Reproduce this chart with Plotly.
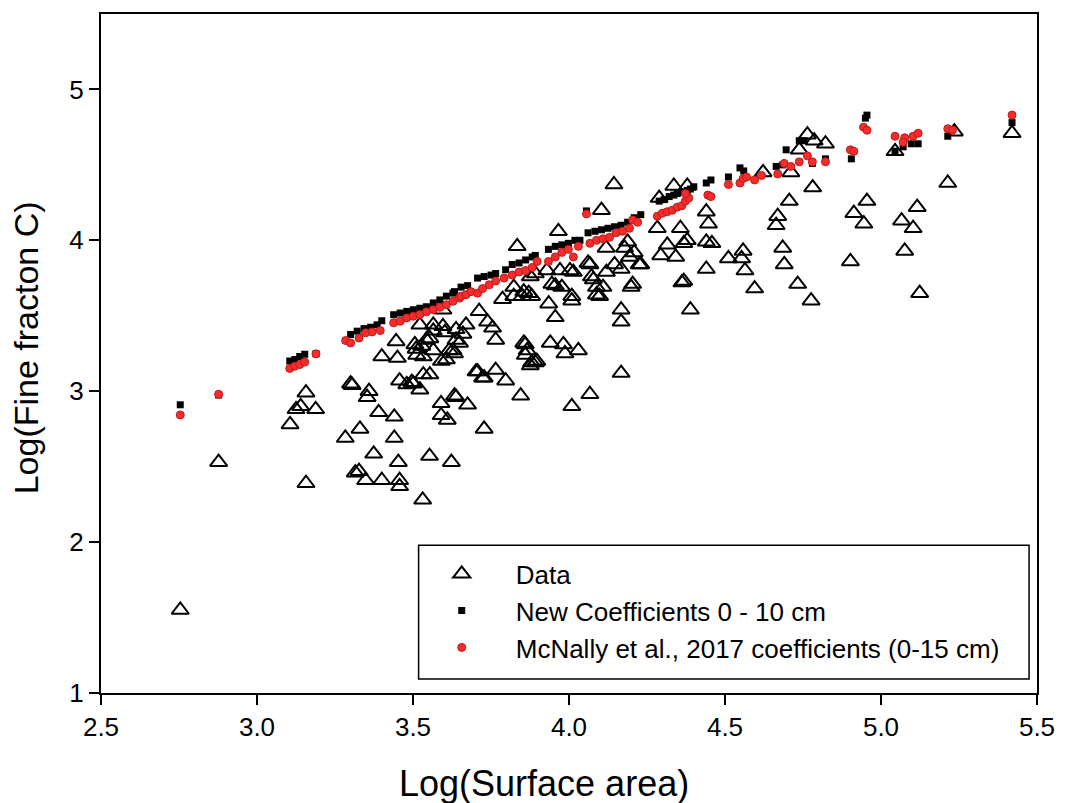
import plotly.graph_objects as go

# ---- Data ----
data_x = [2.754, 2.877, 3.106, 3.125, 3.157, 3.14, 3.188, 3.157, 3.30, 3.305, 3.283, 3.315,
          3.359, 3.353, 3.39, 3.44, 3.33, 3.44, 3.374, 3.453, 3.553, 3.623, 3.327, 3.348,
          3.40, 3.457, 3.457, 3.531, 3.40, 3.446, 3.457, 3.496, 3.522, 3.51, 3.533, 3.522,
          3.554, 3.596, 3.596, 3.565, 3.533, 3.554, 3.591, 3.628, 3.633, 3.59, 3.59, 3.61,
          3.45, 3.638, 3.675, 3.728, 3.707, 3.728, 3.765, 3.797, 3.845, 4.009, 4.067, 4.167,
          4.167, 4.167, 4.389, 4.362, 4.199, 3.956, 3.935, 3.855, 3.866, 3.88, 3.897, 3.94,
          3.982, 3.987, 4.03, 3.712, 3.739, 3.765, 3.755, 3.638, 3.602, 3.649, 3.633, 3.607,
          3.565, 3.543, 3.528, 3.506, 3.512, 3.501, 3.48, 3.565, 3.67, 3.66, 3.787, 3.823,
          3.871, 3.88, 3.956, 3.977, 4.009, 4.009, 4.088, 4.098, 4.144, 4.104, 3.966, 3.834,
          4.119, 4.067, 4.188, 4.209, 4.23, 4.014, 3.945, 4.078, 4.12, 4.167, 3.892, 3.823,
          3.855, 4.336, 4.379, 4.289, 4.44, 4.283, 4.357, 4.379, 4.368, 4.315, 4.294, 4.342,
          4.44, 4.44, 4.368, 4.764, 4.738, 4.622, 4.711, 4.781, 4.706, 4.669, 4.664, 4.685,
          4.69, 4.733, 4.776, 4.595, 4.558, 4.553, 4.564, 4.511, 4.447, 4.458, 4.225, 4.204,
          4.822, 4.786, 5.045, 5.235, 5.42, 5.214, 4.955, 4.913, 4.945, 5.116, 5.066, 5.103,
          5.076, 4.902, 5.124, 3.929, 3.971, 4.003, 4.061, 4.146, 4.072, 4.109, 4.088, 3.876,
          3.85, 3.638, 3.616, 3.86, 3.86, 3.892, 3.876, 3.723, 3.702, 4.178, 4.194]
data_y = [1.55, 2.53, 2.78, 2.88, 2.99, 2.90, 2.88, 2.39, 3.05, 3.04, 2.69, 2.46,
          3.00, 2.96, 2.86, 2.83, 2.75, 2.69, 2.585, 2.53, 2.57, 2.53, 2.47, 2.41,
          2.41, 2.41, 2.37, 2.28, 3.23, 3.33, 3.07, 3.06, 3.01, 3.28, 3.23, 3.44,
          3.35, 3.43, 3.54, 3.27, 3.11, 3.11, 3.20, 3.27, 2.97, 2.92, 2.84, 2.81,
          3.22, 2.96, 2.91, 2.75, 3.13, 3.09, 3.14, 3.07, 2.97, 2.90, 2.98, 3.12,
          3.46, 3.54, 3.54, 3.72, 3.69, 3.49, 3.58, 3.32, 3.27, 3.19, 3.20, 3.32,
          3.31, 3.25, 3.27, 3.53, 3.46, 3.34, 3.42, 3.41, 3.39, 3.32, 3.25, 3.21,
          3.40, 3.34, 3.30, 3.31, 3.24, 3.05, 3.045, 3.44, 3.44, 3.38, 3.61, 3.63,
          3.65, 3.63, 3.70, 3.69, 3.63, 3.60, 3.69, 3.63, 4.37, 4.20, 4.06, 3.96,
          3.95, 3.84, 3.99, 3.92, 3.84, 3.79, 3.71, 3.74, 3.79, 3.81, 3.78, 3.69,
          3.66, 4.36, 4.36, 4.28, 4.19, 4.08, 4.08, 4.00, 3.98, 3.97, 3.90, 3.89,
          3.99, 3.81, 3.73, 4.70, 4.60, 4.45, 4.45, 4.35, 4.26, 4.16, 4.10, 3.95,
          3.84, 3.71, 3.60, 3.68, 3.93, 3.88, 3.80, 3.88, 4.11, 3.98, 3.84, 3.71,
          4.64, 4.66, 4.59, 4.72, 4.71, 4.38, 4.26, 4.18, 4.11, 4.22, 4.13, 4.08,
          3.93, 3.86, 3.65, 3.80, 3.80, 3.80, 3.85, 3.84, 3.76, 3.69, 3.64, 3.76,
          3.63, 3.34, 3.27, 3.31, 3.24, 3.19, 3.17, 3.09, 3.13, 3.95, 3.89]

new_x = [2.754, 2.877, 3.105, 3.121, 3.137, 3.153, 3.189,
         3.30, 3.321, 3.343, 3.364, 3.385, 3.40,
         3.438, 3.459, 3.48, 3.501, 3.522, 3.543, 3.565, 3.586, 3.607, 3.628,
         3.633, 3.654, 3.675,
         3.707, 3.728, 3.75, 3.765,
         3.797, 3.818, 3.84, 3.861, 3.882, 3.892,
         3.934, 3.956, 3.977, 3.998, 4.019, 4.035,
         4.056,
         4.061, 4.083, 4.104, 4.125, 4.146, 4.167, 4.188, 4.209, 4.23,
         4.289, 4.305, 4.321, 4.336, 4.347, 4.362, 4.379, 4.389, 4.40,
         4.44, 4.455, 4.511, 4.548, 4.56,
         4.664, 4.685, 4.696, 4.738, 4.754, 4.78, 4.822, 4.905, 4.95, 4.955,
         5.045, 5.071, 5.097, 5.119, 5.214, 5.42]
new_y = [2.91, 2.975, 3.20, 3.21, 3.23, 3.245, 3.248,
         3.376, 3.398, 3.415, 3.424, 3.44, 3.467,
         3.507, 3.518, 3.529, 3.54, 3.55, 3.56, 3.585, 3.605, 3.63, 3.65,
         3.66, 3.69, 3.70,
         3.75, 3.76, 3.77, 3.78,
         3.805, 3.84, 3.85, 3.87, 3.89, 3.90,
         3.94, 3.96, 3.97, 3.98, 4.00, 4.00,
         4.195,
         4.05, 4.06, 4.07, 4.08, 4.09, 4.10, 4.12, 4.15, 4.17,
         4.26, 4.27, 4.29, 4.30, 4.31, 4.32, 4.33, 4.34, 4.355,
         4.38, 4.40, 4.42, 4.48, 4.46,
         4.49, 4.50, 4.60, 4.66, 4.66, 4.51, 4.54, 4.54, 4.81, 4.83,
         4.59, 4.62, 4.64, 4.64, 4.69, 4.78]

mcn_x = [2.754, 2.877, 3.105, 3.121, 3.137, 3.153, 3.189,
         3.284, 3.30, 3.327, 3.348, 3.369, 3.395,
         3.438, 3.459, 3.48, 3.501, 3.522, 3.543, 3.565, 3.586, 3.607, 3.628, 3.649,
         3.654, 3.67, 3.686,
         3.707, 3.723, 3.744, 3.765,
         3.792, 3.818, 3.84, 3.861, 3.882, 3.898,
         3.934, 3.956, 3.977, 3.998, 4.014, 4.03,
         4.056,
         4.067, 4.088, 4.109, 4.13, 4.151, 4.172, 4.194, 4.204, 4.22,
         4.283, 4.299, 4.315, 4.331, 4.347, 4.362, 4.373, 4.384, 4.373,
         4.445, 4.455, 4.511,
         4.548, 4.558, 4.569, 4.595, 4.617,
         4.669, 4.69, 4.711, 4.738, 4.764, 4.78,
         4.822, 4.902, 4.913, 4.944, 4.955, 5.045, 5.076, 5.071, 5.103, 5.119,
         5.214, 5.229, 5.42]
mcn_y = [2.843, 2.98, 3.151, 3.166, 3.177, 3.193, 3.248,
         3.336, 3.32, 3.353, 3.387, 3.393, 3.402,
         3.453, 3.464, 3.486, 3.497, 3.508, 3.526, 3.54, 3.556, 3.573, 3.596, 3.617,
         3.63, 3.64, 3.66,
         3.65, 3.68, 3.705, 3.73,
         3.75, 3.77, 3.79, 3.80, 3.82, 3.86,
         3.86, 3.89, 3.92, 3.94, 3.89, 3.96,
         4.175,
         3.98, 4.00, 4.01, 4.02, 4.05, 4.06, 4.08, 4.135, 4.12,
         4.16, 4.18, 4.19, 4.20, 4.22, 4.23, 4.26, 4.28, 4.31,
         4.30, 4.29, 4.37,
         4.38, 4.41, 4.42, 4.40, 4.43,
         4.44, 4.51, 4.49, 4.52, 4.56, 4.52,
         4.52, 4.60, 4.59, 4.75, 4.73, 4.69, 4.68, 4.65, 4.69, 4.71,
         4.74, 4.73, 4.83]

x_ticks = [2.5, 3.0, 3.5, 4.0, 4.5, 5.0, 5.5]
y_ticks = [1, 2, 3, 4, 5]

FONT = "Arial, Liberation Sans, sans-serif"

fig = go.Figure()
fig.add_trace(go.Scatter(
    x=data_x, y=data_y, mode="markers", name="Data",
    marker=dict(symbol="triangle-up-open", size=15, color="black",
                line=dict(width=2, color="black"))))
fig.add_trace(go.Scatter(
    x=new_x, y=new_y, mode="markers", name="New Coefficients 0 - 10 cm",
    marker=dict(symbol="square", size=7, color="black",
                line=dict(width=0))))
fig.add_trace(go.Scatter(
    x=mcn_x, y=mcn_y, mode="markers", name="McNally et al., 2017 coefficients (0-15 cm)",
    marker=dict(symbol="circle", size=8, color="#f42c2c",
                line=dict(width=1, color="#c41818"))))

fig.update_layout(
    width=1067, height=803,
    margin=dict(l=101, r=20, t=13, b=110),
    paper_bgcolor="white", plot_bgcolor="white",
    font=dict(family=FONT, color="black"),
    showlegend=True,
    legend=dict(x=(411 - 101) / 946, y=0.21, xanchor="left", yanchor="top",
                bgcolor="rgba(0,0,0,0)", borderwidth=0,
                font=dict(family=FONT, size=26, color="black"),
                tracegroupgap=0, itemwidth=98),
    xaxis=dict(range=[2.5, 5.5], tickvals=x_ticks, ticktext=[f"{v:.1f}" for v in x_ticks],
               showgrid=False, zeroline=False, showline=True, linecolor="black",
               linewidth=2, mirror=True, ticks="outside", ticklen=10, tickwidth=1.5,
               tickcolor="black", tickfont=dict(size=26, family=FONT)),
    yaxis=dict(range=[1, 5.5], tickvals=y_ticks, ticktext=[str(v) for v in y_ticks],
               showgrid=False, zeroline=False, showline=True, linecolor="black",
               linewidth=2, mirror=True, ticks="outside", ticklen=10, tickwidth=1.5,
               tickcolor="black", tickfont=dict(size=26, family=FONT)),
    shapes=[dict(type="rect", xref="paper", yref="paper",
                 x0=(422 - 101) / 946, x1=(1039 - 101) / 946,
                 y0=(693 - 679) / 680, y1=(693 - 545) / 680,
                 line=dict(color="black", width=1.5), fillcolor="rgba(0,0,0,0)")],
    annotations=[
        dict(text="Log(Surface area)", xref="paper", yref="paper",
             x=(549 - 101) / 946, y=(693 - 784) / 680, xanchor="center", yanchor="middle",
             showarrow=False, font=dict(size=36, family=FONT)),
        dict(text="Log(Fine fracton C)", xref="paper", yref="paper",
             x=(25 - 101) / 946, y=(693 - 347) / 680, xanchor="center", yanchor="middle",
             textangle=-90, showarrow=False, font=dict(size=34, family=FONT)),
    ],
)

fig.write_html("out.html")
